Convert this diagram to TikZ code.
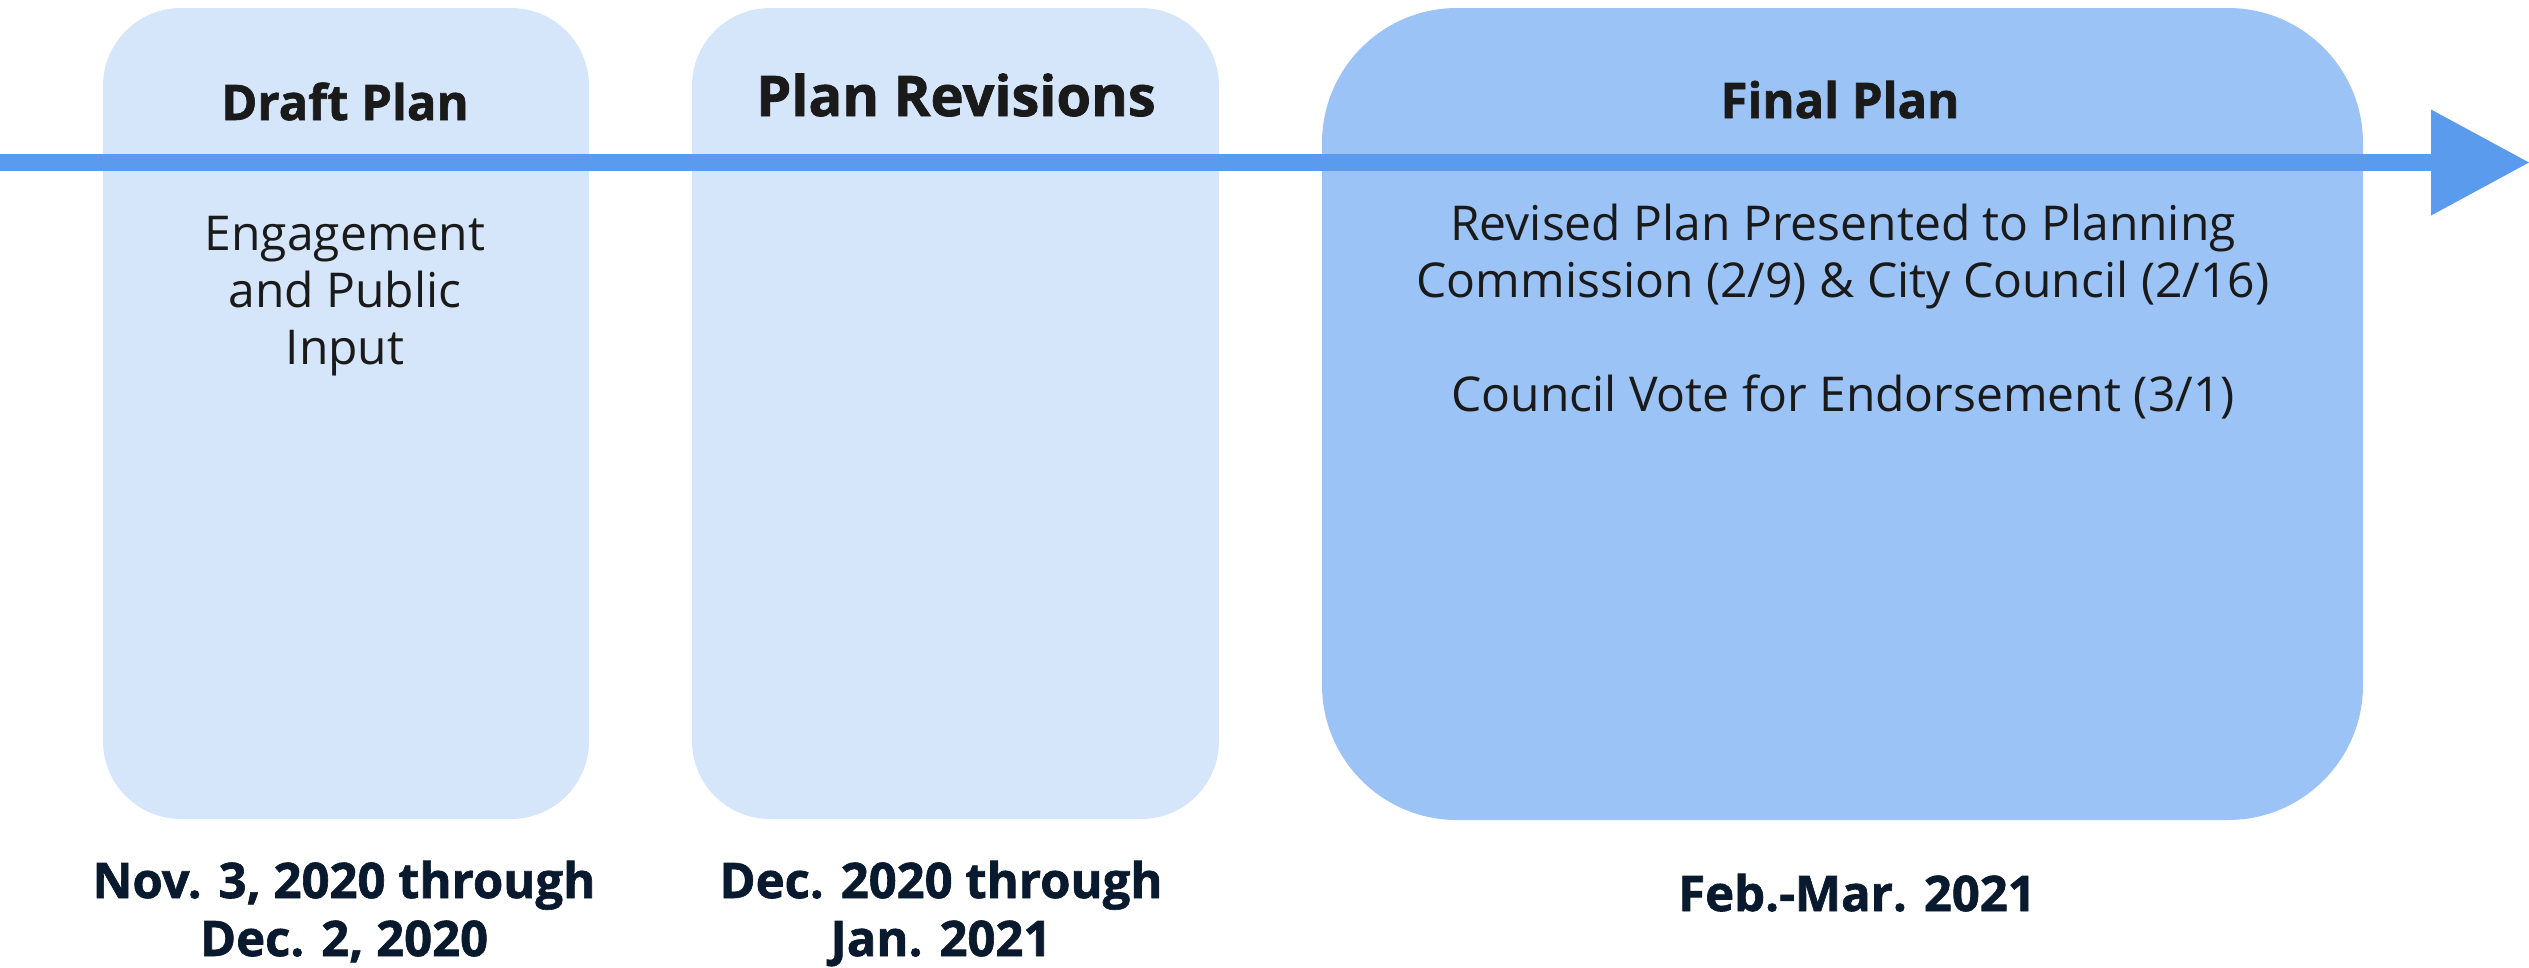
\documentclass[tikz,border=0pt]{standalone}
\usepackage{fontspec}
\setmainfont{Open Sans}[BoldFeatures={FakeBold=1.3}]
\usetikzlibrary{arrows.meta}

\definecolor{paleblue}{HTML}{D5E6FA}
\definecolor{midblue}{HTML}{9CC3F5}
\definecolor{linkblue}{HTML}{5A9BEE}
\definecolor{inkdark}{HTML}{1A1A1A}
\definecolor{navy}{HTML}{0A1A2E}

\begin{document}
\begin{tikzpicture}[x=1pt, y=-1pt,
  phase/.style={inner sep=0pt, outer sep=0pt, draw=none, rounded corners=78pt},
  title/.style={anchor=base, inner sep=0pt, text=inkdark, font=\fontsize{49}{58}\selectfont\bfseries},
  body/.style={anchor=base, inner sep=0pt, text=inkdark, font=\fontsize{48}{57}\selectfont, align=center},
  when/.style={anchor=base, inner sep=0pt, text=navy, font=\fontsize{49}{58}\selectfont\bfseries, align=center}]

  % canvas
  \useasboundingbox (0,0) rectangle (2529,967);

  % phase panels
  \node[phase, fill=paleblue, minimum width=486pt, minimum height=811pt] (draft) at (346,413.5) {};
  \node[phase, fill=paleblue, minimum width=527pt, minimum height=811pt] (revise) at (955.5,413.5) {};
  \node[phase, fill=midblue, rounded corners=135pt, minimum width=1041pt, minimum height=812pt] (final) at (1842.5,414) {};

  % timeline arrow
  \coordinate (tstart) at (0,162.5);
  \coordinate (tend) at (2529,162.5);
  \draw[linkblue, line width=17pt, -{Triangle[length=98pt, width=106pt, line width=0pt]}] (tstart) -- (tend);

  % panel titles
  \node[title] (draftT) at (345,120) {Draft Plan};
  \node[title, font=\fontsize{56}{64}\selectfont\bfseries] (reviseT) at (956,116) {Plan Revisions};
  \node[title] (finalT) at (1840,118) {Final Plan};

  % panel contents (anchored at the baseline of the last line)
  \node[body] (draftB) at (345,364) {Engagement\\and Public\\Input};
  \node[body] (finalB) at (1843,411) {Revised Plan Presented to Planning\\Commission (2/9) \& City Council (2/16)\\[57pt]Council Vote for Endorsement (3/1)};

  % dates
  \node[when] (draftD) at (344,956) {Nov. 3, 2020 through\\Dec. 2, 2020};
  \node[when] (reviseD) at (941,956) {Dec. 2020 through\\Jan. 2021};
  \node[when] (finalD) at (1857,911) {Feb.-Mar. 2021};
\end{tikzpicture}
\end{document}
